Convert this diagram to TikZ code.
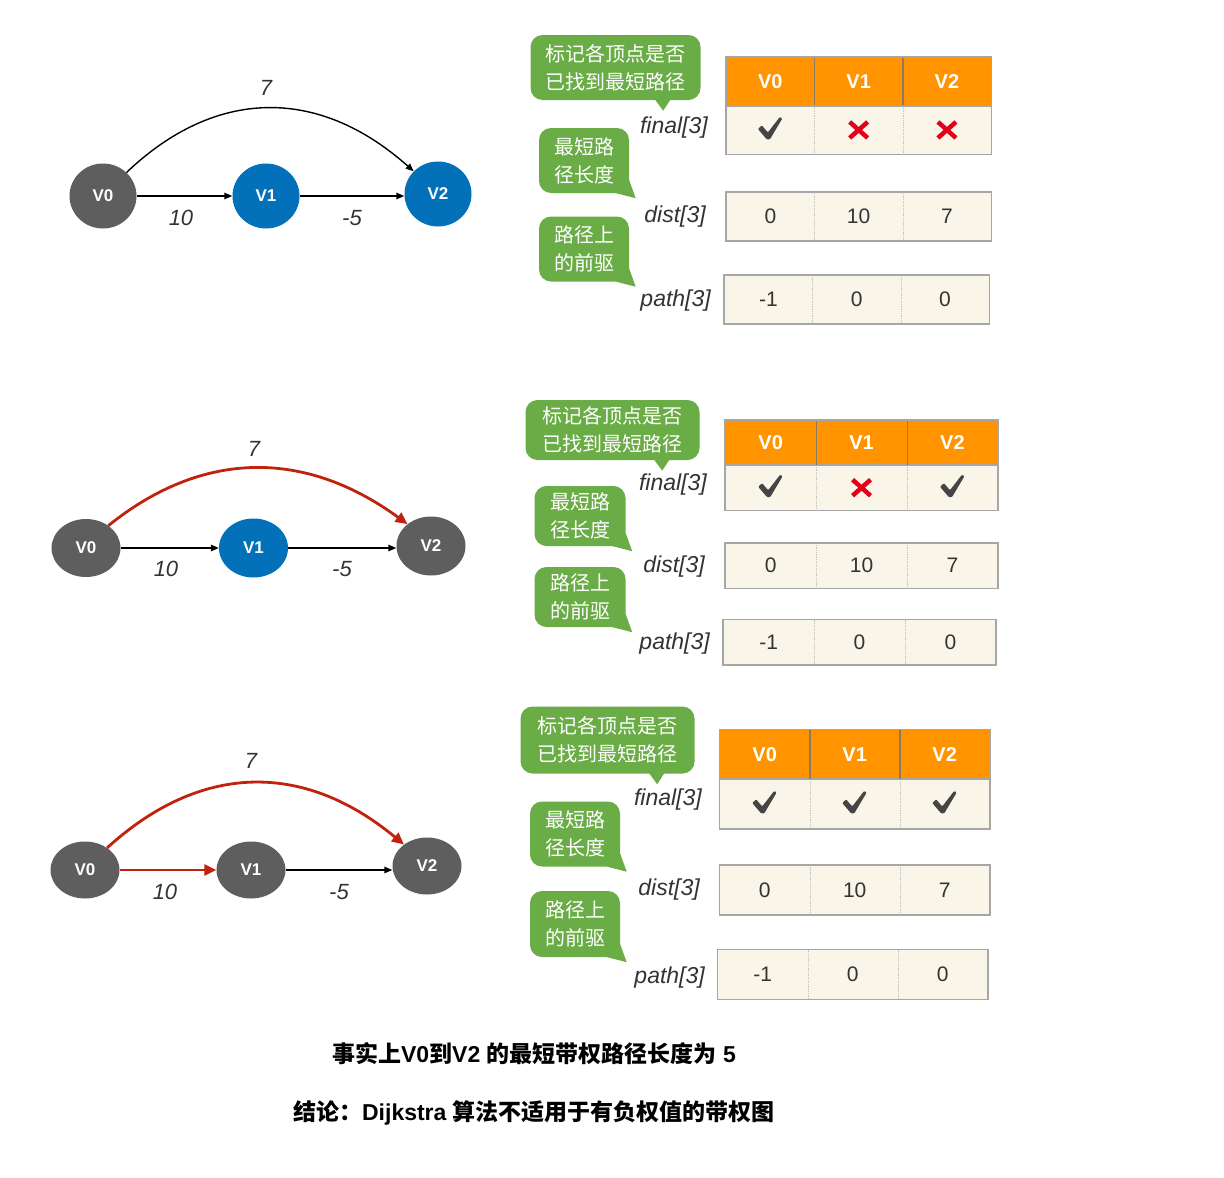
\documentclass[tikz,border=0pt]{standalone}
\usepackage{fontspec}
\setmainfont{Liberation Sans}
\newfontfamily\cjk{Noto Sans CJK SC}
\usetikzlibrary{shapes.geometric,arrows.meta,calc}
\definecolor{hdrorange}{HTML}{FF9300}
\definecolor{cream}{HTML}{F9F6E9}
\definecolor{tblgray}{HTML}{A6A6A6}
\definecolor{hdrline}{HTML}{8A7A62}
\definecolor{bubgreen}{HTML}{6AAC46}
\definecolor{ngray}{HTML}{5E5E5E}
\definecolor{nblue}{HTML}{0271BA}
\definecolor{arrred}{HTML}{C0220E}
\definecolor{xred}{HTML}{E2001A}
\definecolor{chkcol}{HTML}{454545}
\definecolor{txtcol}{HTML}{333333}

\newcommand\ckm[1]{\fill[chkcol, rounded corners=1] ($(#1)+(-12.5,-1)$) -- ($(#1)+(-8.5,-4.5)$) -- ($(#1)+(-2.5,2.5)$) -- ($(#1)+(9.5,-13)$) -- ($(#1)+(12,-11.5)$) -- ($(#1)+(-0.5,9.5)$) -- ($(#1)+(-3.5,9.5)$) -- cycle;}
\newcommand\xm[1]{\draw[crs] ($(#1)+(-9,-8)$) -- ($(#1)+(9,8)$); \draw[crs] ($(#1)+(-9,8)$) -- ($(#1)+(9,-8)$);}
\newcommand\tailA[1]{\fill[bubgreen] ($(#1.south east)+(-46,-1)$) -- ($(#1.south east)+(-37.5,10.5)$) -- ($(#1.south east)+(-30,-1)$) -- cycle;}
\newcommand\tailB[1]{\fill[bubgreen] ($(#1.south east)+(0,-13)$) -- ($(#1.south east)+(6.5,5)$) -- ($(#1.south east)+(-13,0)$) -- cycle;}
% #1 prefix #2 left #3 header top #4 dist top #5 path top #6 path left #7 V1 mark #8 V2 mark ; uses \cw \rh
\newcommand\mktable[8]{%
  \foreach \i/\t in {0/V0,1/V1,2/V2}{
    \node[hdr] (#1h\i) at ({#2+\i*\cw},#3) {\t};
    \node[cellbox] (#1f\i) at ({#2+\i*\cw},{#3+\rh}) {};
  }
  \foreach \i/\t in {0/0,1/10,2/7}{
    \node[cellbox] (#1d\i) at ({#2+\i*\cw},#4) {\t};
  }
  \foreach \i/\t in {0/-1,1/0,2/0}{
    \node[cellbox] (#1p\i) at ({#6+\i*\cw},#5) {\t};
  }
  \foreach \r in {f,d,p}{
    \draw[divl] (#1\r0.north east) -- (#1\r0.south east);
    \draw[divl] (#1\r1.north east) -- (#1\r1.south east);
    \draw[rowline] (#1\r0.north west) rectangle (#1\r2.south east);
  }
  \draw[hdrl] (#1h0.north east) -- (#1h0.south east);
  \draw[hdrl] (#1h1.north east) -- (#1h1.south east);
  \draw[rowline] (#1h0.north west) rectangle (#1h2.south east);
  \ckm{#1f0}
  #7{#1f1}
  #8{#1f2}
}

\begin{document}
\begin{tikzpicture}[x=1pt,y=-1pt,
  gnode/.style={ellipse, inner sep=0, text=white, font=\fontsize{17}{17}\selectfont\bfseries},
  elab/.style={inner sep=0, text=txtcol, font=\fontsize{22}{22}\selectfont\itshape},
  alab/.style={inner sep=0, anchor=east, text=txtcol, font=\fontsize{23}{23}\selectfont\itshape},
  blk/.style={draw=black, line width=1.4, -{Triangle[length=8pt,width=6.5pt]}},
  redarr/.style={draw=arrred, line width=2.8, -{Triangle[length=12pt,width=11pt]}},
  hdr/.style={anchor=north west, minimum width=\cw, minimum height=\rh, inner sep=0, fill=hdrorange, text=white, font=\fontsize{20}{20}\selectfont\bfseries},
  cellbox/.style={anchor=north west, minimum width=\cw, minimum height=\rh, inner sep=0, fill=cream, text=txtcol, font=\fontsize{21}{21}\selectfont},
  rowline/.style={draw=tblgray, line width=1.4},
  divl/.style={draw=tblgray!70, line width=0.8, densely dotted},
  hdrl/.style={draw=hdrline, line width=1.2},
  crs/.style={draw=xred, line width=4.5},
  bub/.style={fill=bubgreen, rounded corners=12, inner sep=0, align=center, text=white, font=\cjk\fontsize{20}{28}\selectfont},
  btxt/.style={inner sep=0, text=black, font=\fontsize{23}{23}\selectfont\bfseries}
]
\useasboundingbox (0,0) rectangle (1224,1178);
\fill[white] (0,0) rectangle (1224,1178);

% ================= Section 1 =================
\node[gnode, fill=ngray, minimum width=67, minimum height=65] (a0) at (103,196) {V0};
\node[gnode, fill=nblue, minimum width=67, minimum height=65] (a1) at (266,196) {V1};
\node[gnode, fill=nblue, minimum width=67, minimum height=65] (a2) at (438,194) {V2};
\draw[blk] (a0) -- (a1);
\draw[blk] (a1.east) -- (a2.west |- a1.east);
\draw[blk] (a0.45) .. controls (215,88) and (318,86) .. (a2.137);
\node[elab] (a7) at (266,88) {7};
\node[elab] (a10) at (181,218) {10};
\node[elab] (a5) at (352,218) {-5};

\node[bub, minimum width=170, minimum height=65] (s1b1) at (615.5,67.5) {标记各顶点是否\\已找到最短路径};
\tailA{s1b1}
\node[bub, minimum width=90, minimum height=65] (s1b2) at (584,160.5) {最短路\\径长度};
\tailB{s1b2}
\node[bub, minimum width=90, minimum height=65] (s1b3) at (584,249) {路径上\\的前驱};
\tailB{s1b3}

\def\cw{88.3}\def\rh{48.5}
\mktable{s1}{726}{57}{192}{275}{724}{\xm}{\xm}
\node[alab] (s1lf) at (708,128) {final[3]};
\node[alab] (s1ld) at (706,217) {dist[3]};
\node[alab] (s1lp) at (711,301) {path[3]};

% ================= Section 2 =================
\node[gnode, fill=ngray, minimum width=69, minimum height=58] (b0) at (86,548) {V0};
\node[gnode, fill=nblue, minimum width=69, minimum height=59] (b1) at (253.5,548) {V1};
\node[gnode, fill=ngray, minimum width=69, minimum height=59] (b2) at (431,546) {V2};
\draw[blk] (b0) -- (b1);
\draw[blk] (b1.east) -- (b2.west |- b1.east);
\draw[redarr] (b0.45) .. controls (201,451) and (303,448) .. (b2.137);
\node[elab] (b7) at (254,449) {7};
\node[elab] (b10) at (166,569) {10};
\node[elab] (b5) at (342,569) {-5};

\node[bub, minimum width=174, minimum height=60] (s2b1) at (612.5,430) {标记各顶点是否\\已找到最短路径};
\tailA{s2b1}
\node[bub, minimum width=91, minimum height=60] (s2b2) at (580,516) {最短路\\径长度};
\tailB{s2b2}
\node[bub, minimum width=91, minimum height=60] (s2b3) at (580,597) {路径上\\的前驱};
\tailB{s2b3}

\def\cw{90.9}\def\rh{45}
\mktable{s2}{725}{420}{543}{619.5}{723}{\xm}{\ckm}
\node[alab] (s2lf) at (707,485) {final[3]};
\node[alab] (s2ld) at (705,567) {dist[3]};
\node[alab] (s2lp) at (710,644) {path[3]};

% ================= Section 3 =================
\node[gnode, fill=ngray, minimum width=69, minimum height=57] (c0) at (85,870) {V0};
\node[gnode, fill=ngray, minimum width=69, minimum height=57] (c1) at (251,870) {V1};
\node[gnode, fill=ngray, minimum width=69, minimum height=57] (c2) at (427,866) {V2};
\draw[redarr] (c0) -- (c1);
\draw[blk] (c1.east) -- (c2.west |- c1.east);
\draw[redarr] (c0.45) .. controls (199,764) and (302,760) .. (c2.137);
\node[elab] (c7) at (251,761) {7};
\node[elab] (c10) at (165,892) {10};
\node[elab] (c5) at (339,892) {-5};

\node[bub, minimum width=174, minimum height=67] (s3b1) at (607.5,740) {标记各顶点是否\\已找到最短路径};
\tailA{s3b1}
\node[bub, minimum width=90, minimum height=65] (s3b2) at (575,834) {最短路\\径长度};
\tailB{s3b2}
\node[bub, minimum width=90, minimum height=66] (s3b3) at (575,924) {路径上\\的前驱};
\tailB{s3b3}

\def\cw{90}\def\rh{49.5}
\mktable{s3}{719.5}{729.5}{865}{949.5}{717.5}{\ckm}{\ckm}
\node[alab] (s3lf) at (702,800) {final[3]};
\node[alab] (s3ld) at (700,890) {dist[3]};
\node[alab] (s3lp) at (705,978) {path[3]};

% ================= Bottom text =================
\node[btxt] (t1) at (534,1054) {{\cjk 事实上}V0{\cjk 到}V2 {\cjk 的最短带权路径长度为} 5};
\node[btxt] (t2) at (534,1113) {{\cjk 结论：}Dijkstra {\cjk 算法不适用于有负权值的带权图}};
\end{tikzpicture}
\end{document}
